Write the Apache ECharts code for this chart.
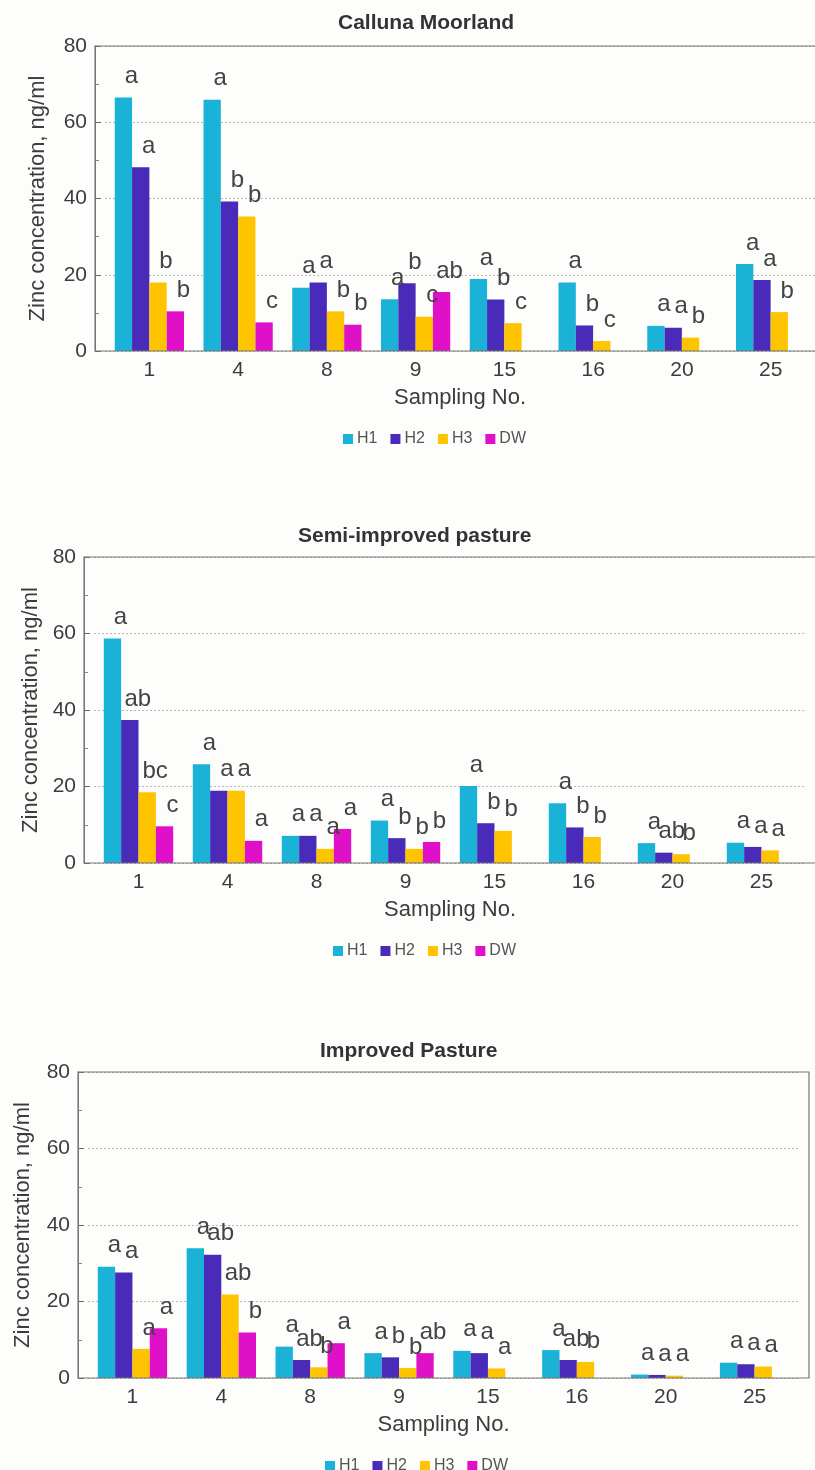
<!DOCTYPE html>
<html>
<head>
<meta charset="utf-8">
<script src="https://cdn.jsdelivr.net/npm/echarts@6/dist/echarts.min.js"></script>
<style>
  html, body { margin: 0; padding: 0; background: #fdfdfb; }
  #main { width: 815px; height: 1470px; }
</style>
</head>
<body>
<div id="main"></div>
<script>
// sampling numbers on the x axis
var categories = ['1', '4', '8', '9', '15', '16', '20', '25'];
var seriesNames = ['H1', 'H2', 'H3', 'DW'];
var yTicks = [0, 20, 40, 60, 80];

// Calluna Moorland
var callunaH1 = [66.5, 65.9, 16.6, 13.6, 18.9, 18.0, 6.6, 22.8];
var callunaH2 = [48.2, 39.2, 18.0, 17.8, 13.5, 6.7, 6.1, 18.6];
var callunaH3 = [18.0, 35.3, 10.4, 9.0, 7.3, 2.6, 3.5, 10.2];
var callunaDW = [10.4, 7.5, 6.9, 15.5, null, null, null, null];
var callunaLetH1 = ['a', 'a', 'a', 'a', 'a', 'a', 'a', 'a'];
var callunaLetH2 = ['a', 'b', 'a', 'b', 'b', 'b', 'a', 'a'];
var callunaLetH3 = ['b', 'b', 'b', 'c', 'c', 'c', 'b', 'b'];
var callunaLetDW = ['b', 'c', 'b', 'ab', '', '', '', ''];

// Semi-improved pasture
var semiH1 = [58.7, 25.8, 7.1, 11.1, 20.1, 15.6, 5.2, 5.3];
var semiH2 = [37.4, 18.9, 7.1, 6.5, 10.4, 9.3, 2.7, 4.2];
var semiH3 = [18.5, 18.9, 3.7, 3.7, 8.4, 6.8, 2.3, 3.3];
var semiDW = [9.6, 5.8, 8.9, 5.5, null, null, null, null];
var semiLetH1 = ['a', 'a', 'a', 'a', 'a', 'a', 'a', 'a'];
var semiLetH2 = ['ab', 'a', 'a', 'b', 'b', 'b', 'ab', 'a'];
var semiLetH3 = ['bc', 'a', 'a', 'b', 'b', 'b', 'b', 'a'];
var semiLetDW = ['c', 'a', 'a', 'b', '', '', '', ''];

// Improved Pasture
var impH1 = [29.1, 33.9, 8.2, 6.5, 7.1, 7.3, 0.9, 4.0];
var impH2 = [27.6, 32.2, 4.7, 5.4, 6.5, 4.7, 0.8, 3.6];
var impH3 = [7.6, 21.8, 2.8, 2.6, 2.5, 4.2, 0.6, 3.0];
var impDW = [13.0, 11.9, 9.1, 6.5, null, null, null, null];
var impLetH1 = ['a', 'a', 'a', 'a', 'a', 'a', 'a', 'a'];
var impLetH2 = ['a', 'ab', 'ab', 'b', 'a', 'ab', 'a', 'a'];
var impLetH3 = ['a', 'ab', 'b', 'b', 'a', 'b', 'a', 'a'];
var impLetDW = ['a', 'b', 'a', 'ab', '', '', '', ''];

var colors = ['#1ab2d6', '#4a2ab8', '#ffc400', '#e010c8'];
var font = '"Liberation Sans", Arial, sans-serif';
var textCol = '#3c3c3c';

// panel layout: frame box (x, y, w, h), title and legend spots
var panels = [
  { title: 'Calluna Moorland', box: [95, 46, 732, 305], titleX: 333, titleY: 8, legendX: 338, legendY: 426, yNameGap: 46,
    values: [callunaH1, callunaH2, callunaH3, callunaDW], letters: [callunaLetH1, callunaLetH2, callunaLetH3, callunaLetDW] },
  { title: 'Semi-improved pasture', box: [84, 557, 732, 306], titleX: 293, titleY: 521, legendX: 328, legendY: 938, yNameGap: 42,
    values: [semiH1, semiH2, semiH3, semiDW], letters: [semiLetH1, semiLetH2, semiLetH3, semiLetDW] },
  { title: 'Improved Pasture', box: [78, 1072, 731, 306], titleX: 315, titleY: 1036, legendX: 320, legendY: 1453, yNameGap: 44,
    values: [impH1, impH2, impH3, impDW], letters: [impLetH1, impLetH2, impLetH3, impLetDW] }
];

var option = {
  backgroundColor: '#fdfdfb',
  animation: false,
  title: [], legend: [], grid: [], xAxis: [], yAxis: [], series: [], graphic: []
};

panels.forEach(function (p, i) {
  var b = p.box;
  option.title.push({
    text: p.title, left: p.titleX, top: p.titleY,
    textStyle: { fontFamily: font, fontSize: 21, fontWeight: 'bold', color: '#333' }
  });
  option.legend.push({
    data: seriesNames, left: p.legendX, top: p.legendY,
    icon: 'rect', itemWidth: 10, itemHeight: 10, itemGap: 13,
    textStyle: { fontFamily: font, fontSize: 16, color: '#555', padding: [0, 0, 0, -1] }
  });
  // categories sit 10px inside the frame on each side
  option.grid.push({ left: b[0] + 10, top: b[1], width: b[2] - 20, height: b[3] });
  option.xAxis.push({
    type: 'category', gridIndex: i, data: categories,
    name: 'Sampling No.', nameLocation: 'middle', nameGap: 36,
    nameTextStyle: { fontFamily: font, fontSize: 22, color: textCol },
    axisLine: { show: false }, axisTick: { show: false },
    axisLabel: { fontFamily: font, fontSize: 21, color: textCol, margin: 9 }
  });
  option.yAxis.push({
    type: 'value', gridIndex: i, min: yTicks[0], max: yTicks[yTicks.length - 1], interval: 20, offset: 10,
    name: 'Zinc concentration, ng/ml', nameLocation: 'middle', nameGap: p.yNameGap,
    nameTextStyle: { fontFamily: font, fontSize: 22, color: textCol },
    axisLine: { show: true, lineStyle: { color: '#777' } },
    axisTick: { show: true, inside: true, length: 6, lineStyle: { color: '#666' } },
    minorTick: { show: true, splitNumber: 2, length: 4, lineStyle: { color: '#888' } },
    axisLabel: { fontFamily: font, fontSize: 21, color: textCol, margin: 8 },
    splitLine: { show: true, lineStyle: { color: '#b8b8b8', type: [2, 2] } }
  });
  seriesNames.forEach(function (name, k) {
    var lets = p.letters[k];
    option.series.push({
      name: name, type: 'bar', xAxisIndex: i, yAxisIndex: i,
      data: p.values[k], barGap: '0%', barCategoryGap: '22%',
      itemStyle: { color: colors[k] },
      label: {
        show: true, position: 'top', distance: 9, offset: [8, 0],
        fontFamily: font, fontSize: 24, color: '#444',
        formatter: function (d) { return lets[d.dataIndex]; }
      }
    });
  });
  option.graphic.push({
    type: 'rect', silent: true, z: 10,
    shape: { x: b[0], y: b[1], width: b[2], height: b[3] },
    style: { fill: 'none', stroke: '#777', lineWidth: 1.2 }
  });
});

var chart = echarts.init(document.getElementById('main'), null, { renderer: 'canvas' });
chart.setOption(option);
</script>
</body>
</html>
